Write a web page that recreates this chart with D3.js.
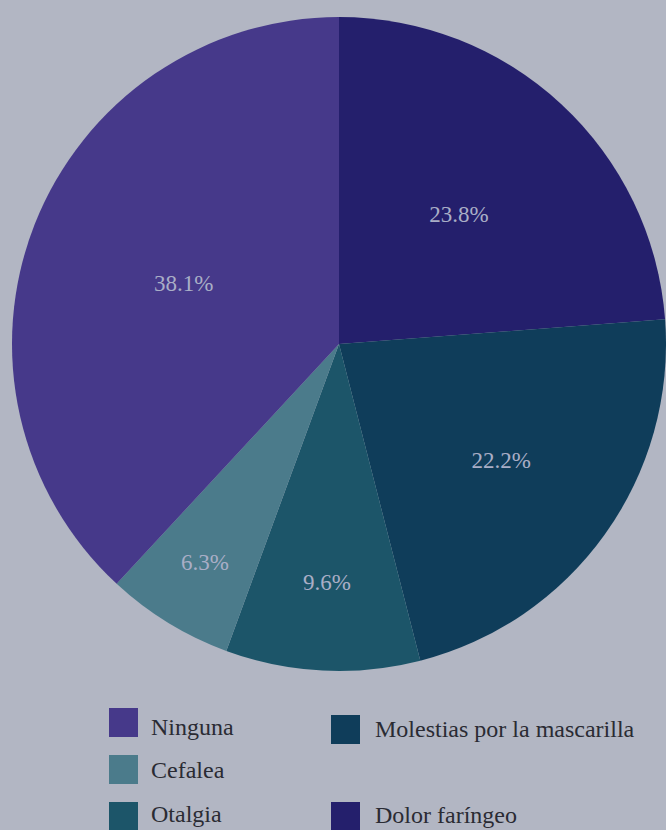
<!DOCTYPE html>
<html>
<head>
<meta charset="utf-8">
<script src="https://cdn.jsdelivr.net/npm/d3@7"></script>
<style>
  html, body { margin: 0; padding: 0; background: #b2b6c3; }
  svg { display: block; }
  text { font-family: "Liberation Serif", "DejaVu Serif", "Times New Roman", serif; }
</style>
</head>
<body>
<div id="chart"></div>
<script>
// Symptom categories, in clockwise order starting at 12 o'clock
const categories = ["Dolor faríngeo", "Molestias por la mascarilla", "Otalgia", "Cefalea", "Ninguna"];
const values = [23.8, 22.2, 9.6, 6.3, 38.1];
const colors = ["#241f6c", "#0f3d5a", "#1c5569", "#4b7b8b", "#46398a"];

// Legend layout: two columns, read row by row
const legendOrder = ["Ninguna", "Molestias por la mascarilla", "Cefalea", null, "Otalgia", "Dolor faríngeo"];

// Radial position of each value label, as a fraction of the radius
const labelRadiusFrac = [0.54, 0.61, 0.73, 0.785, 0.51];

const W = 666, H = 830;
const cx = 339, cy = 344, R = 327;

const svg = d3.select("#chart").append("svg")
  .attr("width", W).attr("height", H);

svg.append("rect").attr("width", W).attr("height", H).attr("fill", "#b2b6c3");

const data = categories.map((c, i) => ({ name: c, value: values[i], color: colors[i], lr: labelRadiusFrac[i] }));

const pie = d3.pie().value(d => d.value).sort(null);
const arc = d3.arc().innerRadius(0).outerRadius(R);
const arcs = pie(data);

const g = svg.append("g").attr("transform", `translate(${cx},${cy})`);

g.selectAll("path.slice")
  .data(arcs)
  .join("path")
  .attr("class", "slice")
  .attr("d", arc)
  .attr("fill", d => d.data.color);

g.selectAll("text.val")
  .data(arcs)
  .join("text")
  .attr("class", "val")
  .attr("transform", d => {
    const a = (d.startAngle + d.endAngle) / 2;
    const r = R * d.data.lr;
    return `translate(${r * Math.sin(a)},${-r * Math.cos(a)})`;
  })
  .attr("text-anchor", "middle")
  .attr("dominant-baseline", "central")
  .attr("font-size", 23)
  .attr("fill", "#a9aec6")
  .text(d => d3.format(".1f")(d.data.value) + "%");

// Legend
const colorOf = new Map(data.map(d => [d.name, d.color]));
const legend = svg.append("g");
const colX = [109, 331];
const boxTop = [[708, 715], [755, 755], [802, 802]];
const baseY = [[735, 737], [778, 778], [822, 823]];

legendOrder.forEach((name, i) => {
  if (!name) return;
  const col = i % 2, row = Math.floor(i / 2);
  const x = colX[col];
  legend.append("rect")
    .attr("x", x).attr("y", boxTop[row][col])
    .attr("width", 29).attr("height", 29)
    .attr("fill", colorOf.get(name));
  legend.append("text")
    .attr("x", x + (col === 0 ? 42 : 44))
    .attr("y", baseY[row][col])
    .attr("font-size", 24)
    .attr("fill", "#2a2b33")
    .text(name);
});
</script>
</body>
</html>
